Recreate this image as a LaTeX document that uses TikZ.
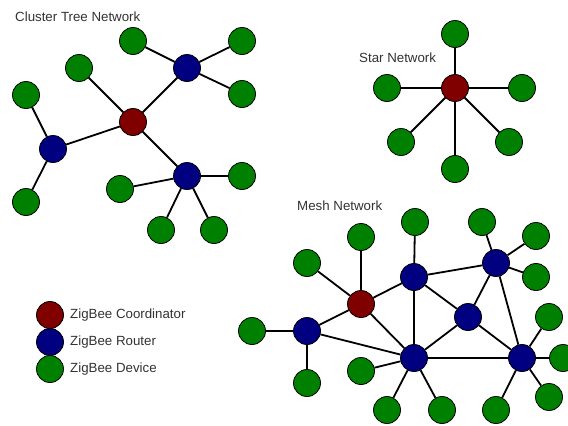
\documentclass[tikz,border=0pt]{standalone}
\usepackage{fontspec}
\setmainfont{Liberation Sans}
\usepackage{tikz}

\definecolor{coordred}{RGB}{128,0,0}
\definecolor{routerblue}{RGB}{0,0,128}
\definecolor{devgreen}{RGB}{0,128,0}

\begin{document}
\begin{tikzpicture}[x=1pt,y=-1pt,
    zbnode/.style={circle, draw=black, line width=0.8pt, minimum size=27pt, inner sep=0pt},
    coord/.style={zbnode, fill=coordred},
    router/.style={zbnode, fill=routerblue},
    device/.style={zbnode, fill=devgreen},
    link/.style={black, line width=1.8pt},
    title/.style={font=\fontsize{13.3}{15}\selectfont, text=black!80, anchor=west, inner sep=0pt}]
        \useasboundingbox[fill=white] (0,0) rectangle (568,426);

        % cluster tree
        \node[title] (cttitle) at (15,17) {Cluster Tree Network};
        \node[coord] (ctc) at (133,122) {};
        \node[router] (ctr1) at (187,68) {};
        \node[router] (ctr2) at (53,149) {};
        \node[router] (ctr3) at (187,176) {};
        \node[device] (ctd1) at (133,41) {};
        \node[device] (ctd2) at (242,41) {};
        \node[device] (ctd3) at (242,94) {};
        \node[device] (ctd4) at (79,68) {};
        \node[device] (ctd5) at (26,95) {};
        \node[device] (ctd6) at (26,202) {};
        \node[device] (ctd7) at (120,189) {};
        \node[device] (ctd8) at (242,176) {};
        \node[device] (ctd9) at (161,230) {};
        \node[device] (ctd10) at (214,230) {};
        \foreach \a/\b in {ctc/ctr1, ctc/ctr2, ctc/ctr3, ctc/ctd4, ctr1/ctd1, ctr1/ctd2, ctr1/ctd3,
                           ctr2/ctd5, ctr2/ctd6, ctr3/ctd7, ctr3/ctd8, ctr3/ctd9, ctr3/ctd10}
            \draw[link] (\a) -- (\b);

        % star
        \node[title] (sttitle) at (359,58) {Star Network};
        \node[coord] (stc) at (455,88) {};
        \node[device] (std1) at (455,34) {};
        \node[device] (std2) at (387,88) {};
        \node[device] (std3) at (522,88) {};
        \node[device] (std4) at (401,142) {};
        \node[device] (std5) at (509,142) {};
        \node[device] (std6) at (455,169) {};
        \foreach \b in {std1, std2, std3, std4, std5, std6}
            \draw[link] (stc) -- (\b);

        % mesh
        \node[title] (mstitle) at (297,206) {Mesh Network};
        \node[coord] (msc) at (361,304) {};
        \node[router] (msa) at (307,331) {};
        \node[router] (msb) at (414,277) {};
        \node[router] (msr) at (496,263) {};
        \node[router] (msd) at (468,317) {};
        \node[router] (mse) at (414,358) {};
        \node[router] (msf) at (522,358) {};
        \node[device] (msd1) at (307,263) {};
        \node[device] (msd2) at (361,237) {};
        \node[device] (msd3) at (252,331) {};
        \node[device] (msd4) at (307,383) {};
        \node[device] (msd5) at (415,222) {};
        \node[device] (msd6) at (482,222) {};
        \node[device] (msd7) at (536,236) {};
        \node[device] (msd8) at (536,277) {};
        \node[device] (msd9) at (361,371) {};
        \node[device] (msd10) at (387,410) {};
        \node[device] (msd11) at (442,410) {};
        \node[device] (msd12) at (496,410) {};
        \node[device] (msd13) at (549,317) {};
        \node[device] (msd14) at (563,358) {};
        \node[device] (msd15) at (549,397) {};
        \foreach \a/\b in {msc/msa, msc/msb, msc/mse, msa/mse, msb/msr, msb/mse, msb/msd,
                           msr/msd, msr/msf, msd/mse, msd/msf, mse/msf,
                           msc/msd1, msc/msd2, msa/msd3, msa/msd4, msb/msd5, msr/msd6, msr/msd7, msr/msd8,
                           mse/msd9, mse/msd10, mse/msd11, msf/msd12, msf/msd13, msf/msd14, msf/msd15}
            \draw[link] (\a) -- (\b);

        % legend
        \node[coord] (lgc) at (50,315) {};
        \node[router] (lgr) at (50,342) {};
        \node[device] (lgd) at (50,369) {};
        \node[title] (lgctext) at (70,315) {ZigBee Coordinator};
        \node[title] (lgrtext) at (70,342) {ZigBee Router};
        \node[title] (lgdtext) at (70,369) {ZigBee Device};
    \end{tikzpicture}
\end{document}
